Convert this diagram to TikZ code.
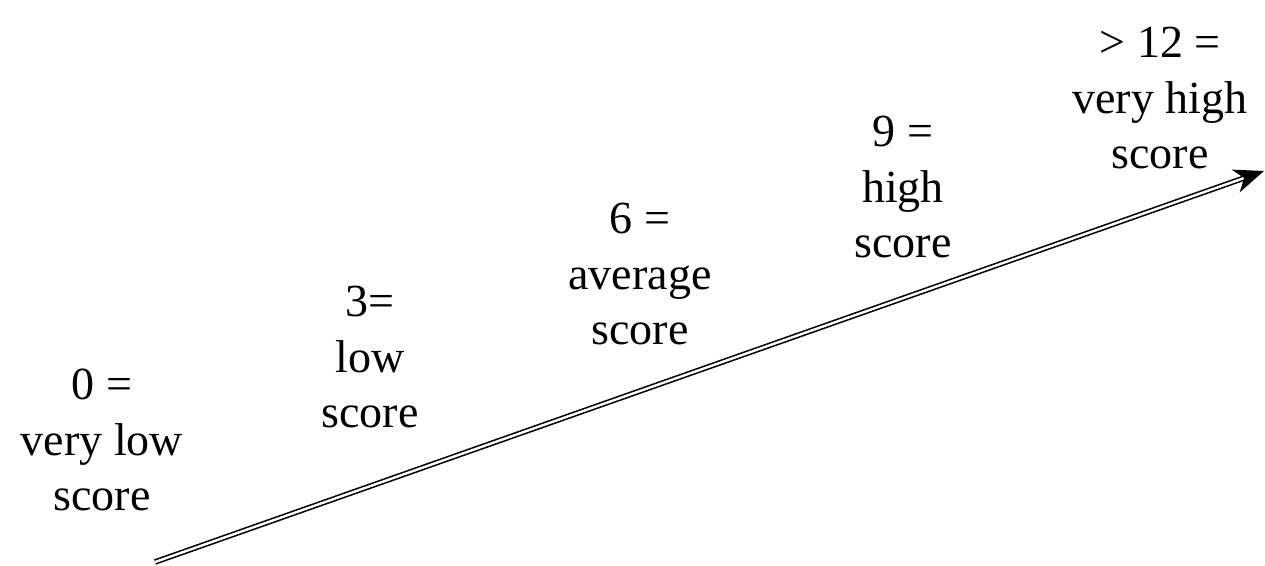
\documentclass[tikz,border=0pt]{standalone}
\usepackage{fontspec}
\setmainfont{Liberation Serif}
\usetikzlibrary{arrows.meta}
\begin{document}
\begin{tikzpicture}[x=1pt,y=-1pt,
  lbl/.style={align=center,inner sep=0pt,font=\fontsize{46}{55.5}\selectfont},
  axis/.style={double,double distance=2.4pt,line width=1.6pt,
    -{Stealth[length=30pt,width=24pt,inset=9pt]}}]
\useasboundingbox (0,0) rectangle (1265,565);
\coordinate (s) at (155,562);
\coordinate (e) at (1264,171);
\draw[axis] (s) -- (e);
\node[lbl] (a) at (102,440) {0 =\\very low\\score};
\node[lbl] (b) at (370,357) {3=\\low\\score};
\node[lbl] (c) at (640,274) {6 =\\average\\score};
\node[lbl] (d) at (903,187) {9 =\\high\\score};
\node[lbl] (f) at (1160,98) {> 12 =\\very high\\score};
\end{tikzpicture}
\end{document}
